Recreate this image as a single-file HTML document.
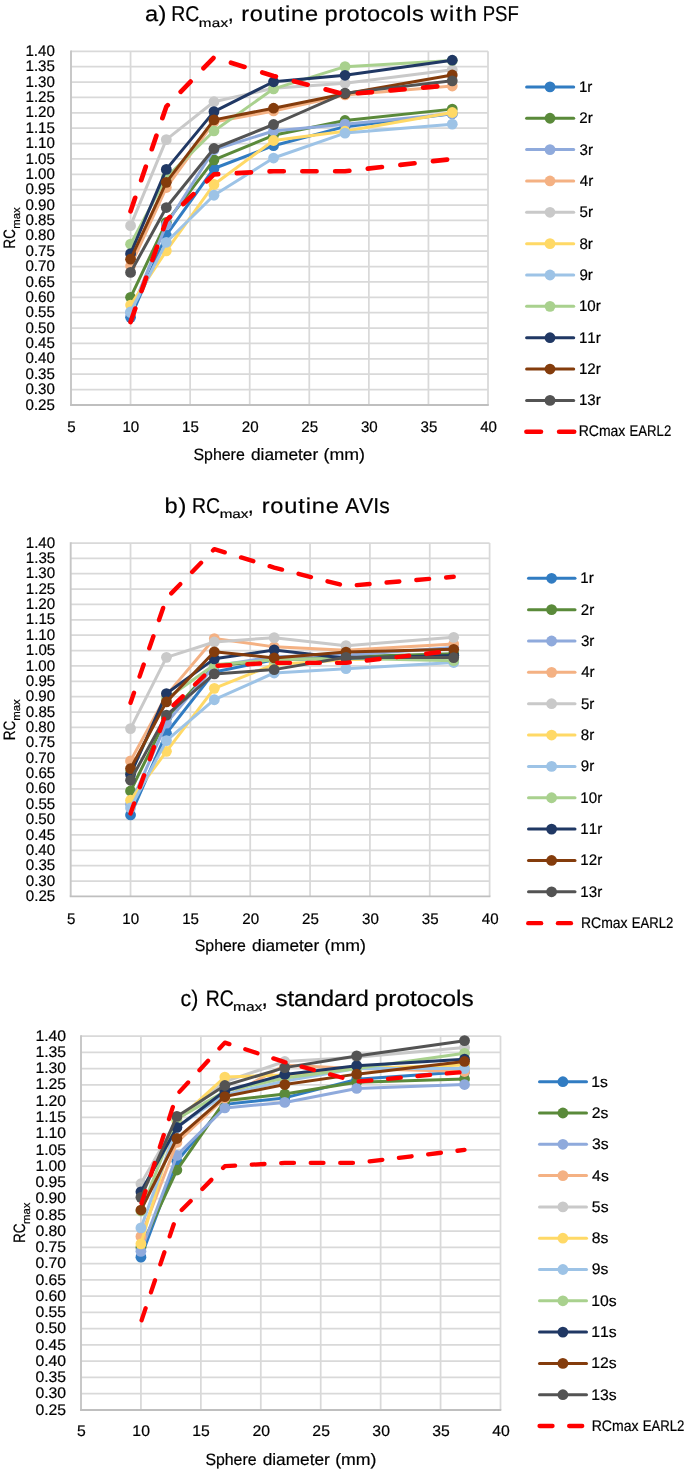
<!DOCTYPE html>
<html><head><meta charset="utf-8"><style>
html,body{margin:0;padding:0;background:#fff;}
svg{display:block;will-change:transform;font-family:"Liberation Sans", sans-serif;font-kerning:none;}
text{stroke:#000;stroke-width:0.2px;text-rendering:geometricPrecision;}
</style></head><body>
<svg width="685" height="1470" viewBox="0 0 685 1470">
<rect width="685" height="1470" fill="#fff"/>
<path d="M71.00 389.62H488.00M71.00 374.24H488.00M71.00 358.87H488.00M71.00 343.49H488.00M71.00 328.11H488.00M71.00 312.73H488.00M71.00 297.35H488.00M71.00 281.97H488.00M71.00 266.60H488.00M71.00 251.22H488.00M71.00 235.84H488.00M71.00 220.46H488.00M71.00 205.08H488.00M71.00 189.70H488.00M71.00 174.33H488.00M71.00 158.95H488.00M71.00 143.57H488.00M71.00 128.19H488.00M71.00 112.81H488.00M71.00 97.43H488.00M71.00 82.06H488.00M71.00 66.68H488.00M71.00 51.30H488.00M130.57 51.30V405.00M190.14 51.30V405.00M249.71 51.30V405.00M309.29 51.30V405.00M368.86 51.30V405.00M428.43 51.30V405.00M488.00 51.30V405.00" stroke="#D9D9D9" stroke-width="1.75" fill="none"/>
<path d="M71.00 50.50V405.00" stroke="#C6C6C6" stroke-width="1.9" fill="none"/>
<path d="M70.05 405.00H488.80" stroke="#BFBFBF" stroke-width="1.9" fill="none"/>
<polyline points="130.57,317.34 166.31,235.22 213.97,168.48 273.54,145.72 345.03,126.65 452.26,113.74" stroke="#317CC2" stroke-width="3.0" fill="none" stroke-linejoin="round" stroke-linecap="round"/>
<circle cx="130.57" cy="317.34" r="5.4" fill="#317CC2"/>
<circle cx="166.31" cy="235.22" r="5.4" fill="#317CC2"/>
<circle cx="213.97" cy="168.48" r="5.4" fill="#317CC2"/>
<circle cx="273.54" cy="145.72" r="5.4" fill="#317CC2"/>
<circle cx="345.03" cy="126.65" r="5.4" fill="#317CC2"/>
<circle cx="452.26" cy="113.74" r="5.4" fill="#317CC2"/>
<polyline points="130.57,297.35 166.31,222.31 213.97,159.87 273.54,135.27 345.03,120.50 452.26,109.12" stroke="#5A8A3A" stroke-width="3.0" fill="none" stroke-linejoin="round" stroke-linecap="round"/>
<circle cx="130.57" cy="297.35" r="5.4" fill="#5A8A3A"/>
<circle cx="166.31" cy="222.31" r="5.4" fill="#5A8A3A"/>
<circle cx="213.97" cy="159.87" r="5.4" fill="#5A8A3A"/>
<circle cx="273.54" cy="135.27" r="5.4" fill="#5A8A3A"/>
<circle cx="345.03" cy="120.50" r="5.4" fill="#5A8A3A"/>
<circle cx="452.26" cy="109.12" r="5.4" fill="#5A8A3A"/>
<polyline points="130.57,312.73 166.31,224.77 213.97,149.72 273.54,130.96 345.03,124.19 452.26,113.74" stroke="#8FAADC" stroke-width="3.0" fill="none" stroke-linejoin="round" stroke-linecap="round"/>
<circle cx="130.57" cy="312.73" r="5.4" fill="#8FAADC"/>
<circle cx="166.31" cy="224.77" r="5.4" fill="#8FAADC"/>
<circle cx="213.97" cy="149.72" r="5.4" fill="#8FAADC"/>
<circle cx="273.54" cy="130.96" r="5.4" fill="#8FAADC"/>
<circle cx="345.03" cy="124.19" r="5.4" fill="#8FAADC"/>
<circle cx="452.26" cy="113.74" r="5.4" fill="#8FAADC"/>
<polyline points="130.57,265.98 166.31,187.55 213.97,122.04 273.54,110.97 345.03,94.97 452.26,86.05" stroke="#F4B183" stroke-width="3.0" fill="none" stroke-linejoin="round" stroke-linecap="round"/>
<circle cx="130.57" cy="265.98" r="5.4" fill="#F4B183"/>
<circle cx="166.31" cy="187.55" r="5.4" fill="#F4B183"/>
<circle cx="213.97" cy="122.04" r="5.4" fill="#F4B183"/>
<circle cx="273.54" cy="110.97" r="5.4" fill="#F4B183"/>
<circle cx="345.03" cy="94.97" r="5.4" fill="#F4B183"/>
<circle cx="452.26" cy="86.05" r="5.4" fill="#F4B183"/>
<polyline points="130.57,225.69 166.31,139.57 213.97,101.74 273.54,88.21 345.03,83.29 452.26,69.75" stroke="#C9C9C9" stroke-width="3.0" fill="none" stroke-linejoin="round" stroke-linecap="round"/>
<circle cx="130.57" cy="225.69" r="5.4" fill="#C9C9C9"/>
<circle cx="166.31" cy="139.57" r="5.4" fill="#C9C9C9"/>
<circle cx="213.97" cy="101.74" r="5.4" fill="#C9C9C9"/>
<circle cx="273.54" cy="88.21" r="5.4" fill="#C9C9C9"/>
<circle cx="345.03" cy="83.29" r="5.4" fill="#C9C9C9"/>
<circle cx="452.26" cy="69.75" r="5.4" fill="#C9C9C9"/>
<polyline points="130.57,305.04 166.31,250.91 213.97,184.48 273.54,140.49 345.03,131.27 452.26,112.51" stroke="#FFD966" stroke-width="3.0" fill="none" stroke-linejoin="round" stroke-linecap="round"/>
<circle cx="130.57" cy="305.04" r="5.4" fill="#FFD966"/>
<circle cx="166.31" cy="250.91" r="5.4" fill="#FFD966"/>
<circle cx="213.97" cy="184.48" r="5.4" fill="#FFD966"/>
<circle cx="273.54" cy="140.49" r="5.4" fill="#FFD966"/>
<circle cx="345.03" cy="131.27" r="5.4" fill="#FFD966"/>
<circle cx="452.26" cy="112.51" r="5.4" fill="#FFD966"/>
<polyline points="130.57,311.81 166.31,242.30 213.97,195.24 273.54,158.03 345.03,133.11 452.26,124.19" stroke="#9DC3E6" stroke-width="3.0" fill="none" stroke-linejoin="round" stroke-linecap="round"/>
<circle cx="130.57" cy="311.81" r="5.4" fill="#9DC3E6"/>
<circle cx="166.31" cy="242.30" r="5.4" fill="#9DC3E6"/>
<circle cx="213.97" cy="195.24" r="5.4" fill="#9DC3E6"/>
<circle cx="273.54" cy="158.03" r="5.4" fill="#9DC3E6"/>
<circle cx="345.03" cy="133.11" r="5.4" fill="#9DC3E6"/>
<circle cx="452.26" cy="124.19" r="5.4" fill="#9DC3E6"/>
<polyline points="130.57,244.14 166.31,177.40 213.97,130.96 273.54,88.82 345.03,66.68 452.26,60.53" stroke="#A9D18E" stroke-width="3.0" fill="none" stroke-linejoin="round" stroke-linecap="round"/>
<circle cx="130.57" cy="244.14" r="5.4" fill="#A9D18E"/>
<circle cx="166.31" cy="177.40" r="5.4" fill="#A9D18E"/>
<circle cx="213.97" cy="130.96" r="5.4" fill="#A9D18E"/>
<circle cx="273.54" cy="88.82" r="5.4" fill="#A9D18E"/>
<circle cx="345.03" cy="66.68" r="5.4" fill="#A9D18E"/>
<circle cx="452.26" cy="60.53" r="5.4" fill="#A9D18E"/>
<polyline points="130.57,253.68 166.31,169.41 213.97,111.58 273.54,81.75 345.03,75.29 452.26,60.22" stroke="#203864" stroke-width="3.0" fill="none" stroke-linejoin="round" stroke-linecap="round"/>
<circle cx="130.57" cy="253.68" r="5.4" fill="#203864"/>
<circle cx="166.31" cy="169.41" r="5.4" fill="#203864"/>
<circle cx="213.97" cy="111.58" r="5.4" fill="#203864"/>
<circle cx="273.54" cy="81.75" r="5.4" fill="#203864"/>
<circle cx="345.03" cy="75.29" r="5.4" fill="#203864"/>
<circle cx="452.26" cy="60.22" r="5.4" fill="#203864"/>
<polyline points="130.57,259.21 166.31,182.32 213.97,119.89 273.54,108.20 345.03,93.74 452.26,74.98" stroke="#843C0C" stroke-width="3.0" fill="none" stroke-linejoin="round" stroke-linecap="round"/>
<circle cx="130.57" cy="259.21" r="5.4" fill="#843C0C"/>
<circle cx="166.31" cy="182.32" r="5.4" fill="#843C0C"/>
<circle cx="213.97" cy="119.89" r="5.4" fill="#843C0C"/>
<circle cx="273.54" cy="108.20" r="5.4" fill="#843C0C"/>
<circle cx="345.03" cy="93.74" r="5.4" fill="#843C0C"/>
<circle cx="452.26" cy="74.98" r="5.4" fill="#843C0C"/>
<polyline points="130.57,272.44 166.31,207.54 213.97,148.49 273.54,124.50 345.03,93.13 452.26,80.83" stroke="#535353" stroke-width="3.0" fill="none" stroke-linejoin="round" stroke-linecap="round"/>
<circle cx="130.57" cy="272.44" r="5.4" fill="#535353"/>
<circle cx="166.31" cy="207.54" r="5.4" fill="#535353"/>
<circle cx="213.97" cy="148.49" r="5.4" fill="#535353"/>
<circle cx="273.54" cy="124.50" r="5.4" fill="#535353"/>
<circle cx="345.03" cy="93.13" r="5.4" fill="#535353"/>
<circle cx="452.26" cy="80.83" r="5.4" fill="#535353"/>
<polyline points="130.57,211.23 166.31,106.66 213.97,57.45 273.54,75.91 345.03,94.36 452.26,85.13" stroke="#FF0000" stroke-width="4.7" fill="none" stroke-linejoin="round" stroke-linecap="round" stroke-dasharray="14.2 18.6" stroke-dashoffset="0"/>
<polyline points="130.57,321.96 166.31,220.46 213.97,174.33 273.54,171.25 345.03,171.25 452.26,158.95" stroke="#FF0000" stroke-width="4.7" fill="none" stroke-linejoin="round" stroke-linecap="round" stroke-dasharray="14.2 18.6" stroke-dashoffset="0"/>
<text transform="matrix(1.1,0,0,1,145.10,20.90)" font-size="21.5" letter-spacing="0.221" fill="#000">a)</text>
<text x="171.31" y="20.90" font-size="21.5" textLength="28.03" lengthAdjust="spacingAndGlyphs" fill="#000">RC</text>
<text transform="matrix(1.25,0,0,1,198.69,26.50)" font-size="12.2" letter-spacing="0.267" fill="#000">max</text>
<text x="227.77" y="20.90" font-size="21.5">,</text>
<text transform="matrix(1.1,0,0,1,241.13,20.90)" font-size="21.5" letter-spacing="0.713" fill="#000">routine</text>
<text transform="matrix(1.1,0,0,1,324.58,20.90)" font-size="21.5" letter-spacing="0.365" fill="#000">protocols</text>
<text transform="matrix(1.1,0,0,1,430.43,20.90)" font-size="21.5" letter-spacing="1.347" fill="#000">with</text>
<text x="482.68" y="20.90" font-size="21.5" textLength="36.06" lengthAdjust="spacingAndGlyphs" fill="#000">PSF</text>
<text x="25.49" y="409.60" font-size="15.4" textLength="29.44" lengthAdjust="spacingAndGlyphs" fill="#000">0.25</text>
<text x="25.45" y="394.22" font-size="15.4" textLength="29.44" lengthAdjust="spacingAndGlyphs" fill="#000">0.30</text>
<text x="25.49" y="378.84" font-size="15.4" textLength="29.44" lengthAdjust="spacingAndGlyphs" fill="#000">0.35</text>
<text x="25.45" y="363.47" font-size="15.4" textLength="29.44" lengthAdjust="spacingAndGlyphs" fill="#000">0.40</text>
<text x="25.49" y="348.09" font-size="15.4" textLength="29.44" lengthAdjust="spacingAndGlyphs" fill="#000">0.45</text>
<text x="25.45" y="332.71" font-size="15.4" textLength="29.44" lengthAdjust="spacingAndGlyphs" fill="#000">0.50</text>
<text x="25.49" y="317.33" font-size="15.4" textLength="29.44" lengthAdjust="spacingAndGlyphs" fill="#000">0.55</text>
<text x="25.45" y="301.95" font-size="15.4" textLength="29.44" lengthAdjust="spacingAndGlyphs" fill="#000">0.60</text>
<text x="25.49" y="286.57" font-size="15.4" textLength="29.44" lengthAdjust="spacingAndGlyphs" fill="#000">0.65</text>
<text x="25.45" y="271.20" font-size="15.4" textLength="29.44" lengthAdjust="spacingAndGlyphs" fill="#000">0.70</text>
<text x="25.49" y="255.82" font-size="15.4" textLength="29.44" lengthAdjust="spacingAndGlyphs" fill="#000">0.75</text>
<text x="25.45" y="240.44" font-size="15.4" textLength="29.44" lengthAdjust="spacingAndGlyphs" fill="#000">0.80</text>
<text x="25.49" y="225.06" font-size="15.4" textLength="29.44" lengthAdjust="spacingAndGlyphs" fill="#000">0.85</text>
<text x="25.45" y="209.68" font-size="15.4" textLength="29.44" lengthAdjust="spacingAndGlyphs" fill="#000">0.90</text>
<text x="25.49" y="194.30" font-size="15.4" textLength="29.44" lengthAdjust="spacingAndGlyphs" fill="#000">0.95</text>
<text x="25.45" y="178.93" font-size="15.4" textLength="29.44" lengthAdjust="spacingAndGlyphs" fill="#000">1.00</text>
<text x="25.49" y="163.55" font-size="15.4" textLength="29.44" lengthAdjust="spacingAndGlyphs" fill="#000">1.05</text>
<text x="25.45" y="148.17" font-size="15.4" textLength="29.44" lengthAdjust="spacingAndGlyphs" fill="#000">1.10</text>
<text x="25.49" y="132.79" font-size="15.4" textLength="29.44" lengthAdjust="spacingAndGlyphs" fill="#000">1.15</text>
<text x="25.45" y="117.41" font-size="15.4" textLength="29.44" lengthAdjust="spacingAndGlyphs" fill="#000">1.20</text>
<text x="25.49" y="102.03" font-size="15.4" textLength="29.44" lengthAdjust="spacingAndGlyphs" fill="#000">1.25</text>
<text x="25.45" y="86.66" font-size="15.4" textLength="29.44" lengthAdjust="spacingAndGlyphs" fill="#000">1.30</text>
<text x="25.49" y="71.28" font-size="15.4" textLength="29.44" lengthAdjust="spacingAndGlyphs" fill="#000">1.35</text>
<text x="25.45" y="55.90" font-size="15.4" textLength="29.44" lengthAdjust="spacingAndGlyphs" fill="#000">1.40</text>
<text x="67.31" y="431.80" font-size="15.4" textLength="8.41" lengthAdjust="spacingAndGlyphs" fill="#000">5</text>
<text x="122.38" y="431.80" font-size="15.4" textLength="16.83" lengthAdjust="spacingAndGlyphs" fill="#000">10</text>
<text x="181.97" y="431.80" font-size="15.4" textLength="16.83" lengthAdjust="spacingAndGlyphs" fill="#000">15</text>
<text x="241.72" y="431.80" font-size="15.4" textLength="16.83" lengthAdjust="spacingAndGlyphs" fill="#000">20</text>
<text x="301.31" y="431.80" font-size="15.4" textLength="16.83" lengthAdjust="spacingAndGlyphs" fill="#000">25</text>
<text x="360.95" y="431.80" font-size="15.4" textLength="16.83" lengthAdjust="spacingAndGlyphs" fill="#000">30</text>
<text x="420.54" y="431.80" font-size="15.4" textLength="16.83" lengthAdjust="spacingAndGlyphs" fill="#000">35</text>
<text x="480.21" y="431.80" font-size="15.4" textLength="16.83" lengthAdjust="spacingAndGlyphs" fill="#000">40</text>
<text x="193.48" y="459.70" font-size="16.5" textLength="51.31" lengthAdjust="spacingAndGlyphs" fill="#000">Sphere</text>
<text x="250.94" y="459.70" font-size="16.5" textLength="67.26" lengthAdjust="spacingAndGlyphs" fill="#000">diameter</text>
<text x="323.59" y="459.70" font-size="16.5" textLength="41.41" lengthAdjust="spacingAndGlyphs" fill="#000">(mm)</text>
<g transform="translate(14.80,0) rotate(-90)">
<text x="-248.39" y="0.00" font-size="16.5" textLength="19.20" lengthAdjust="spacingAndGlyphs" fill="#000">RC</text>
<text x="-228.75" y="4.90" font-size="11.2" textLength="21.27" lengthAdjust="spacingAndGlyphs" fill="#000">max</text>
</g>
<path d="M526.60 86.90H573.70" stroke="#317CC2" stroke-width="3.0" stroke-linecap="round"/>
<circle cx="550.00" cy="86.90" r="5.4" fill="#317CC2"/>
<text x="578.95" y="91.80" font-size="15.4" textLength="13.45" lengthAdjust="spacingAndGlyphs" fill="#000">1r</text>
<path d="M526.60 118.25H573.70" stroke="#5A8A3A" stroke-width="3.0" stroke-linecap="round"/>
<circle cx="550.00" cy="118.25" r="5.4" fill="#5A8A3A"/>
<text x="579.34" y="123.15" font-size="15.4" textLength="13.45" lengthAdjust="spacingAndGlyphs" fill="#000">2r</text>
<path d="M526.60 149.60H573.70" stroke="#8FAADC" stroke-width="3.0" stroke-linecap="round"/>
<circle cx="550.00" cy="149.60" r="5.4" fill="#8FAADC"/>
<text x="579.52" y="154.50" font-size="15.4" textLength="13.45" lengthAdjust="spacingAndGlyphs" fill="#000">3r</text>
<path d="M526.60 180.95H573.70" stroke="#F4B183" stroke-width="3.0" stroke-linecap="round"/>
<circle cx="550.00" cy="180.95" r="5.4" fill="#F4B183"/>
<text x="579.75" y="185.85" font-size="15.4" textLength="13.45" lengthAdjust="spacingAndGlyphs" fill="#000">4r</text>
<path d="M526.60 212.30H573.70" stroke="#C9C9C9" stroke-width="3.0" stroke-linecap="round"/>
<circle cx="550.00" cy="212.30" r="5.4" fill="#C9C9C9"/>
<text x="579.49" y="217.20" font-size="15.4" textLength="13.45" lengthAdjust="spacingAndGlyphs" fill="#000">5r</text>
<path d="M526.60 243.65H573.70" stroke="#FFD966" stroke-width="3.0" stroke-linecap="round"/>
<circle cx="550.00" cy="243.65" r="5.4" fill="#FFD966"/>
<text x="579.44" y="248.55" font-size="15.4" textLength="13.45" lengthAdjust="spacingAndGlyphs" fill="#000">8r</text>
<path d="M526.60 275.00H573.70" stroke="#9DC3E6" stroke-width="3.0" stroke-linecap="round"/>
<circle cx="550.00" cy="275.00" r="5.4" fill="#9DC3E6"/>
<text x="579.39" y="279.90" font-size="15.4" textLength="13.45" lengthAdjust="spacingAndGlyphs" fill="#000">9r</text>
<path d="M526.60 306.35H573.70" stroke="#A9D18E" stroke-width="3.0" stroke-linecap="round"/>
<circle cx="550.00" cy="306.35" r="5.4" fill="#A9D18E"/>
<text x="578.95" y="311.25" font-size="15.4" textLength="21.86" lengthAdjust="spacingAndGlyphs" fill="#000">10r</text>
<path d="M526.60 337.70H573.70" stroke="#203864" stroke-width="3.0" stroke-linecap="round"/>
<circle cx="550.00" cy="337.70" r="5.4" fill="#203864"/>
<text x="578.95" y="342.60" font-size="15.4" textLength="21.86" lengthAdjust="spacingAndGlyphs" fill="#000">11r</text>
<path d="M526.60 369.05H573.70" stroke="#843C0C" stroke-width="3.0" stroke-linecap="round"/>
<circle cx="550.00" cy="369.05" r="5.4" fill="#843C0C"/>
<text x="578.95" y="373.95" font-size="15.4" textLength="21.86" lengthAdjust="spacingAndGlyphs" fill="#000">12r</text>
<path d="M526.60 400.40H573.70" stroke="#535353" stroke-width="3.0" stroke-linecap="round"/>
<circle cx="550.00" cy="400.40" r="5.4" fill="#535353"/>
<text x="578.95" y="405.30" font-size="15.4" textLength="21.86" lengthAdjust="spacingAndGlyphs" fill="#000">13r</text>
<path d="M526.45 431.75H540.95" stroke="#FF0000" stroke-width="4.7" stroke-linecap="round"/>
<path d="M559.15 431.75H574.15" stroke="#FF0000" stroke-width="4.7" stroke-linecap="round"/>
<text x="578.65" y="436.25" font-size="15.4" textLength="46.75" lengthAdjust="spacingAndGlyphs" fill="#000">RCmax</text>
<text x="629.59" y="436.25" font-size="15.4" textLength="41.67" lengthAdjust="spacingAndGlyphs" fill="#000">EARL2</text>
<path d="M70.70 881.03H489.60M70.70 865.67H489.60M70.70 850.30H489.60M70.70 834.94H489.60M70.70 819.57H489.60M70.70 804.21H489.60M70.70 788.84H489.60M70.70 773.48H489.60M70.70 758.11H489.60M70.70 742.75H489.60M70.70 727.38H489.60M70.70 712.02H489.60M70.70 696.65H489.60M70.70 681.29H489.60M70.70 665.92H489.60M70.70 650.56H489.60M70.70 635.19H489.60M70.70 619.83H489.60M70.70 604.46H489.60M70.70 589.10H489.60M70.70 573.73H489.60M70.70 558.37H489.60M70.70 543.00H489.60M130.54 543.00V896.40M190.39 543.00V896.40M250.23 543.00V896.40M310.07 543.00V896.40M369.91 543.00V896.40M429.76 543.00V896.40M489.60 543.00V896.40" stroke="#D9D9D9" stroke-width="1.75" fill="none"/>
<path d="M70.70 542.20V896.40" stroke="#C6C6C6" stroke-width="1.9" fill="none"/>
<path d="M69.75 896.40H490.40" stroke="#BFBFBF" stroke-width="1.9" fill="none"/>
<polyline points="130.54,814.96 166.45,733.22 214.32,672.07 274.17,659.78 345.98,658.24 453.69,655.17" stroke="#317CC2" stroke-width="3.0" fill="none" stroke-linejoin="round" stroke-linecap="round"/>
<circle cx="130.54" cy="814.96" r="5.4" fill="#317CC2"/>
<circle cx="166.45" cy="733.22" r="5.4" fill="#317CC2"/>
<circle cx="214.32" cy="672.07" r="5.4" fill="#317CC2"/>
<circle cx="274.17" cy="659.78" r="5.4" fill="#317CC2"/>
<circle cx="345.98" cy="658.24" r="5.4" fill="#317CC2"/>
<circle cx="453.69" cy="655.17" r="5.4" fill="#317CC2"/>
<polyline points="130.54,790.99 166.45,718.16 214.32,665.92 274.17,659.78 345.98,656.70 453.69,653.63" stroke="#5A8A3A" stroke-width="3.0" fill="none" stroke-linejoin="round" stroke-linecap="round"/>
<circle cx="130.54" cy="790.99" r="5.4" fill="#5A8A3A"/>
<circle cx="166.45" cy="718.16" r="5.4" fill="#5A8A3A"/>
<circle cx="214.32" cy="665.92" r="5.4" fill="#5A8A3A"/>
<circle cx="274.17" cy="659.78" r="5.4" fill="#5A8A3A"/>
<circle cx="345.98" cy="656.70" r="5.4" fill="#5A8A3A"/>
<circle cx="453.69" cy="653.63" r="5.4" fill="#5A8A3A"/>
<polyline points="130.54,804.21 166.45,723.08 214.32,665.92 274.17,656.70 345.98,655.17 453.69,647.48" stroke="#8FAADC" stroke-width="3.0" fill="none" stroke-linejoin="round" stroke-linecap="round"/>
<circle cx="130.54" cy="804.21" r="5.4" fill="#8FAADC"/>
<circle cx="166.45" cy="723.08" r="5.4" fill="#8FAADC"/>
<circle cx="214.32" cy="665.92" r="5.4" fill="#8FAADC"/>
<circle cx="274.17" cy="656.70" r="5.4" fill="#8FAADC"/>
<circle cx="345.98" cy="655.17" r="5.4" fill="#8FAADC"/>
<circle cx="453.69" cy="647.48" r="5.4" fill="#8FAADC"/>
<polyline points="130.54,760.88 166.45,695.12 214.32,638.57 274.17,646.87 345.98,650.25 453.69,644.10" stroke="#F4B183" stroke-width="3.0" fill="none" stroke-linejoin="round" stroke-linecap="round"/>
<circle cx="130.54" cy="760.88" r="5.4" fill="#F4B183"/>
<circle cx="166.45" cy="695.12" r="5.4" fill="#F4B183"/>
<circle cx="214.32" cy="638.57" r="5.4" fill="#F4B183"/>
<circle cx="274.17" cy="646.87" r="5.4" fill="#F4B183"/>
<circle cx="345.98" cy="650.25" r="5.4" fill="#F4B183"/>
<circle cx="453.69" cy="644.10" r="5.4" fill="#F4B183"/>
<polyline points="130.54,728.61 166.45,657.32 214.32,641.95 274.17,637.65 345.98,645.64 453.69,637.34" stroke="#C9C9C9" stroke-width="3.0" fill="none" stroke-linejoin="round" stroke-linecap="round"/>
<circle cx="130.54" cy="728.61" r="5.4" fill="#C9C9C9"/>
<circle cx="166.45" cy="657.32" r="5.4" fill="#C9C9C9"/>
<circle cx="214.32" cy="641.95" r="5.4" fill="#C9C9C9"/>
<circle cx="274.17" cy="637.65" r="5.4" fill="#C9C9C9"/>
<circle cx="345.98" cy="645.64" r="5.4" fill="#C9C9C9"/>
<circle cx="453.69" cy="637.34" r="5.4" fill="#C9C9C9"/>
<polyline points="130.54,800.21 166.45,751.35 214.32,688.35 274.17,664.39 345.98,659.78 453.69,656.70" stroke="#FFD966" stroke-width="3.0" fill="none" stroke-linejoin="round" stroke-linecap="round"/>
<circle cx="130.54" cy="800.21" r="5.4" fill="#FFD966"/>
<circle cx="166.45" cy="751.35" r="5.4" fill="#FFD966"/>
<circle cx="214.32" cy="688.35" r="5.4" fill="#FFD966"/>
<circle cx="274.17" cy="664.39" r="5.4" fill="#FFD966"/>
<circle cx="345.98" cy="659.78" r="5.4" fill="#FFD966"/>
<circle cx="453.69" cy="656.70" r="5.4" fill="#FFD966"/>
<polyline points="130.54,807.90 166.45,740.60 214.32,699.73 274.17,672.99 345.98,668.69 453.69,662.54" stroke="#9DC3E6" stroke-width="3.0" fill="none" stroke-linejoin="round" stroke-linecap="round"/>
<circle cx="130.54" cy="807.90" r="5.4" fill="#9DC3E6"/>
<circle cx="166.45" cy="740.60" r="5.4" fill="#9DC3E6"/>
<circle cx="214.32" cy="699.73" r="5.4" fill="#9DC3E6"/>
<circle cx="274.17" cy="672.99" r="5.4" fill="#9DC3E6"/>
<circle cx="345.98" cy="668.69" r="5.4" fill="#9DC3E6"/>
<circle cx="453.69" cy="662.54" r="5.4" fill="#9DC3E6"/>
<polyline points="130.54,771.94 166.45,698.80 214.32,664.69 274.17,659.78 345.98,658.24 453.69,660.70" stroke="#A9D18E" stroke-width="3.0" fill="none" stroke-linejoin="round" stroke-linecap="round"/>
<circle cx="130.54" cy="771.94" r="5.4" fill="#A9D18E"/>
<circle cx="166.45" cy="698.80" r="5.4" fill="#A9D18E"/>
<circle cx="214.32" cy="664.69" r="5.4" fill="#A9D18E"/>
<circle cx="274.17" cy="659.78" r="5.4" fill="#A9D18E"/>
<circle cx="345.98" cy="658.24" r="5.4" fill="#A9D18E"/>
<circle cx="453.69" cy="660.70" r="5.4" fill="#A9D18E"/>
<polyline points="130.54,774.40 166.45,693.58 214.32,658.85 274.17,649.94 345.98,658.24 453.69,655.47" stroke="#203864" stroke-width="3.0" fill="none" stroke-linejoin="round" stroke-linecap="round"/>
<circle cx="130.54" cy="774.40" r="5.4" fill="#203864"/>
<circle cx="166.45" cy="693.58" r="5.4" fill="#203864"/>
<circle cx="214.32" cy="658.85" r="5.4" fill="#203864"/>
<circle cx="274.17" cy="649.94" r="5.4" fill="#203864"/>
<circle cx="345.98" cy="658.24" r="5.4" fill="#203864"/>
<circle cx="453.69" cy="655.47" r="5.4" fill="#203864"/>
<polyline points="130.54,768.56 166.45,701.88 214.32,651.79 274.17,657.93 345.98,652.09 453.69,649.33" stroke="#843C0C" stroke-width="3.0" fill="none" stroke-linejoin="round" stroke-linecap="round"/>
<circle cx="130.54" cy="768.56" r="5.4" fill="#843C0C"/>
<circle cx="166.45" cy="701.88" r="5.4" fill="#843C0C"/>
<circle cx="214.32" cy="651.79" r="5.4" fill="#843C0C"/>
<circle cx="274.17" cy="657.93" r="5.4" fill="#843C0C"/>
<circle cx="345.98" cy="652.09" r="5.4" fill="#843C0C"/>
<circle cx="453.69" cy="649.33" r="5.4" fill="#843C0C"/>
<polyline points="130.54,780.24 166.45,715.09 214.32,673.91 274.17,669.61 345.98,657.32 453.69,657.62" stroke="#535353" stroke-width="3.0" fill="none" stroke-linejoin="round" stroke-linecap="round"/>
<circle cx="130.54" cy="780.24" r="5.4" fill="#535353"/>
<circle cx="166.45" cy="715.09" r="5.4" fill="#535353"/>
<circle cx="214.32" cy="673.91" r="5.4" fill="#535353"/>
<circle cx="274.17" cy="669.61" r="5.4" fill="#535353"/>
<circle cx="345.98" cy="657.32" r="5.4" fill="#535353"/>
<circle cx="453.69" cy="657.62" r="5.4" fill="#535353"/>
<polyline points="130.54,702.80 166.45,598.31 214.32,549.15 274.17,567.58 345.98,586.02 453.69,576.80" stroke="#FF0000" stroke-width="4.4" fill="none" stroke-linejoin="round" stroke-linecap="round" stroke-dasharray="12.8 17.1" stroke-dashoffset="2.2"/>
<polyline points="130.54,813.43 166.45,712.02 214.32,665.92 274.17,662.85 345.98,662.85 453.69,650.56" stroke="#FF0000" stroke-width="4.4" fill="none" stroke-linejoin="round" stroke-linecap="round" stroke-dasharray="12.8 17.1" stroke-dashoffset="2.2"/>
<text transform="matrix(1.1,0,0,1,164.58,512.50)" font-size="21.5" letter-spacing="0.693" fill="#000">b)</text>
<text x="192.11" y="512.50" font-size="21.5" textLength="28.03" lengthAdjust="spacingAndGlyphs" fill="#000">RC</text>
<text x="219.69" y="518.40" font-size="12.2" textLength="28.78" lengthAdjust="spacingAndGlyphs" fill="#000">max</text>
<text x="247.77" y="512.50" font-size="21.5">,</text>
<text transform="matrix(1.1,0,0,1,261.63,512.50)" font-size="21.5" letter-spacing="0.744" fill="#000">routine</text>
<text x="345.26" y="512.50" font-size="21.5" textLength="44.40" lengthAdjust="spacingAndGlyphs" fill="#000">AVIs</text>
<text x="25.79" y="901.00" font-size="15.4" textLength="29.44" lengthAdjust="spacingAndGlyphs" fill="#000">0.25</text>
<text x="25.75" y="885.63" font-size="15.4" textLength="29.44" lengthAdjust="spacingAndGlyphs" fill="#000">0.30</text>
<text x="25.79" y="870.27" font-size="15.4" textLength="29.44" lengthAdjust="spacingAndGlyphs" fill="#000">0.35</text>
<text x="25.75" y="854.90" font-size="15.4" textLength="29.44" lengthAdjust="spacingAndGlyphs" fill="#000">0.40</text>
<text x="25.79" y="839.54" font-size="15.4" textLength="29.44" lengthAdjust="spacingAndGlyphs" fill="#000">0.45</text>
<text x="25.75" y="824.17" font-size="15.4" textLength="29.44" lengthAdjust="spacingAndGlyphs" fill="#000">0.50</text>
<text x="25.79" y="808.81" font-size="15.4" textLength="29.44" lengthAdjust="spacingAndGlyphs" fill="#000">0.55</text>
<text x="25.75" y="793.44" font-size="15.4" textLength="29.44" lengthAdjust="spacingAndGlyphs" fill="#000">0.60</text>
<text x="25.79" y="778.08" font-size="15.4" textLength="29.44" lengthAdjust="spacingAndGlyphs" fill="#000">0.65</text>
<text x="25.75" y="762.71" font-size="15.4" textLength="29.44" lengthAdjust="spacingAndGlyphs" fill="#000">0.70</text>
<text x="25.79" y="747.35" font-size="15.4" textLength="29.44" lengthAdjust="spacingAndGlyphs" fill="#000">0.75</text>
<text x="25.75" y="731.98" font-size="15.4" textLength="29.44" lengthAdjust="spacingAndGlyphs" fill="#000">0.80</text>
<text x="25.79" y="716.62" font-size="15.4" textLength="29.44" lengthAdjust="spacingAndGlyphs" fill="#000">0.85</text>
<text x="25.75" y="701.25" font-size="15.4" textLength="29.44" lengthAdjust="spacingAndGlyphs" fill="#000">0.90</text>
<text x="25.79" y="685.89" font-size="15.4" textLength="29.44" lengthAdjust="spacingAndGlyphs" fill="#000">0.95</text>
<text x="25.75" y="670.52" font-size="15.4" textLength="29.44" lengthAdjust="spacingAndGlyphs" fill="#000">1.00</text>
<text x="25.79" y="655.16" font-size="15.4" textLength="29.44" lengthAdjust="spacingAndGlyphs" fill="#000">1.05</text>
<text x="25.75" y="639.79" font-size="15.4" textLength="29.44" lengthAdjust="spacingAndGlyphs" fill="#000">1.10</text>
<text x="25.79" y="624.43" font-size="15.4" textLength="29.44" lengthAdjust="spacingAndGlyphs" fill="#000">1.15</text>
<text x="25.75" y="609.06" font-size="15.4" textLength="29.44" lengthAdjust="spacingAndGlyphs" fill="#000">1.20</text>
<text x="25.79" y="593.70" font-size="15.4" textLength="29.44" lengthAdjust="spacingAndGlyphs" fill="#000">1.25</text>
<text x="25.75" y="578.33" font-size="15.4" textLength="29.44" lengthAdjust="spacingAndGlyphs" fill="#000">1.30</text>
<text x="25.79" y="562.97" font-size="15.4" textLength="29.44" lengthAdjust="spacingAndGlyphs" fill="#000">1.35</text>
<text x="25.75" y="547.60" font-size="15.4" textLength="29.44" lengthAdjust="spacingAndGlyphs" fill="#000">1.40</text>
<text x="67.01" y="923.60" font-size="15.4" textLength="8.41" lengthAdjust="spacingAndGlyphs" fill="#000">5</text>
<text x="122.35" y="923.60" font-size="15.4" textLength="16.83" lengthAdjust="spacingAndGlyphs" fill="#000">10</text>
<text x="182.21" y="923.60" font-size="15.4" textLength="16.83" lengthAdjust="spacingAndGlyphs" fill="#000">15</text>
<text x="242.23" y="923.60" font-size="15.4" textLength="16.83" lengthAdjust="spacingAndGlyphs" fill="#000">20</text>
<text x="302.10" y="923.60" font-size="15.4" textLength="16.83" lengthAdjust="spacingAndGlyphs" fill="#000">25</text>
<text x="362.01" y="923.60" font-size="15.4" textLength="16.83" lengthAdjust="spacingAndGlyphs" fill="#000">30</text>
<text x="421.87" y="923.60" font-size="15.4" textLength="16.83" lengthAdjust="spacingAndGlyphs" fill="#000">35</text>
<text x="481.81" y="923.60" font-size="15.4" textLength="16.83" lengthAdjust="spacingAndGlyphs" fill="#000">40</text>
<text x="194.78" y="951.30" font-size="16.5" textLength="51.19" lengthAdjust="spacingAndGlyphs" fill="#000">Sphere</text>
<text x="252.10" y="951.30" font-size="16.5" textLength="67.10" lengthAdjust="spacingAndGlyphs" fill="#000">diameter</text>
<text x="324.59" y="951.30" font-size="16.5" textLength="41.31" lengthAdjust="spacingAndGlyphs" fill="#000">(mm)</text>
<g transform="translate(14.70,0) rotate(-90)">
<text x="-740.32" y="0.00" font-size="16.5" textLength="19.63" lengthAdjust="spacingAndGlyphs" fill="#000">RC</text>
<text x="-720.86" y="5.00" font-size="11.2" textLength="21.58" lengthAdjust="spacingAndGlyphs" fill="#000">max</text>
</g>
<path d="M528.50 578.30H575.00" stroke="#317CC2" stroke-width="3.0" stroke-linecap="round"/>
<circle cx="551.60" cy="578.30" r="5.4" fill="#317CC2"/>
<text x="580.35" y="583.20" font-size="15.4" textLength="13.45" lengthAdjust="spacingAndGlyphs" fill="#000">1r</text>
<path d="M528.50 609.65H575.00" stroke="#5A8A3A" stroke-width="3.0" stroke-linecap="round"/>
<circle cx="551.60" cy="609.65" r="5.4" fill="#5A8A3A"/>
<text x="580.74" y="614.55" font-size="15.4" textLength="13.45" lengthAdjust="spacingAndGlyphs" fill="#000">2r</text>
<path d="M528.50 641.00H575.00" stroke="#8FAADC" stroke-width="3.0" stroke-linecap="round"/>
<circle cx="551.60" cy="641.00" r="5.4" fill="#8FAADC"/>
<text x="580.92" y="645.90" font-size="15.4" textLength="13.45" lengthAdjust="spacingAndGlyphs" fill="#000">3r</text>
<path d="M528.50 672.35H575.00" stroke="#F4B183" stroke-width="3.0" stroke-linecap="round"/>
<circle cx="551.60" cy="672.35" r="5.4" fill="#F4B183"/>
<text x="581.15" y="677.25" font-size="15.4" textLength="13.45" lengthAdjust="spacingAndGlyphs" fill="#000">4r</text>
<path d="M528.50 703.70H575.00" stroke="#C9C9C9" stroke-width="3.0" stroke-linecap="round"/>
<circle cx="551.60" cy="703.70" r="5.4" fill="#C9C9C9"/>
<text x="580.89" y="708.60" font-size="15.4" textLength="13.45" lengthAdjust="spacingAndGlyphs" fill="#000">5r</text>
<path d="M528.50 735.05H575.00" stroke="#FFD966" stroke-width="3.0" stroke-linecap="round"/>
<circle cx="551.60" cy="735.05" r="5.4" fill="#FFD966"/>
<text x="580.84" y="739.95" font-size="15.4" textLength="13.45" lengthAdjust="spacingAndGlyphs" fill="#000">8r</text>
<path d="M528.50 766.40H575.00" stroke="#9DC3E6" stroke-width="3.0" stroke-linecap="round"/>
<circle cx="551.60" cy="766.40" r="5.4" fill="#9DC3E6"/>
<text x="580.79" y="771.30" font-size="15.4" textLength="13.45" lengthAdjust="spacingAndGlyphs" fill="#000">9r</text>
<path d="M528.50 797.75H575.00" stroke="#A9D18E" stroke-width="3.0" stroke-linecap="round"/>
<circle cx="551.60" cy="797.75" r="5.4" fill="#A9D18E"/>
<text x="580.35" y="802.65" font-size="15.4" textLength="21.86" lengthAdjust="spacingAndGlyphs" fill="#000">10r</text>
<path d="M528.50 829.10H575.00" stroke="#203864" stroke-width="3.0" stroke-linecap="round"/>
<circle cx="551.60" cy="829.10" r="5.4" fill="#203864"/>
<text x="580.35" y="834.00" font-size="15.4" textLength="21.86" lengthAdjust="spacingAndGlyphs" fill="#000">11r</text>
<path d="M528.50 860.45H575.00" stroke="#843C0C" stroke-width="3.0" stroke-linecap="round"/>
<circle cx="551.60" cy="860.45" r="5.4" fill="#843C0C"/>
<text x="580.35" y="865.35" font-size="15.4" textLength="21.86" lengthAdjust="spacingAndGlyphs" fill="#000">12r</text>
<path d="M528.50 891.80H575.00" stroke="#535353" stroke-width="3.0" stroke-linecap="round"/>
<circle cx="551.60" cy="891.80" r="5.4" fill="#535353"/>
<text x="580.35" y="896.70" font-size="15.4" textLength="21.86" lengthAdjust="spacingAndGlyphs" fill="#000">13r</text>
<path d="M528.30 923.15H541.10" stroke="#FF0000" stroke-width="4.4" stroke-linecap="round"/>
<path d="M558.00 923.15H570.90" stroke="#FF0000" stroke-width="4.4" stroke-linecap="round"/>
<text x="580.95" y="927.65" font-size="15.4" textLength="46.60" lengthAdjust="spacingAndGlyphs" fill="#000">RCmax</text>
<text x="631.72" y="927.65" font-size="15.4" textLength="41.53" lengthAdjust="spacingAndGlyphs" fill="#000">EARL2</text>
<path d="M81.00 1393.74H500.50M81.00 1377.49H500.50M81.00 1361.23H500.50M81.00 1344.97H500.50M81.00 1328.72H500.50M81.00 1312.46H500.50M81.00 1296.20H500.50M81.00 1279.95H500.50M81.00 1263.69H500.50M81.00 1247.43H500.50M81.00 1231.18H500.50M81.00 1214.92H500.50M81.00 1198.67H500.50M81.00 1182.41H500.50M81.00 1166.15H500.50M81.00 1149.90H500.50M81.00 1133.64H500.50M81.00 1117.38H500.50M81.00 1101.13H500.50M81.00 1084.87H500.50M81.00 1068.61H500.50M81.00 1052.36H500.50M81.00 1036.10H500.50M140.93 1036.10V1410.00M200.86 1036.10V1410.00M260.79 1036.10V1410.00M320.71 1036.10V1410.00M380.64 1036.10V1410.00M440.57 1036.10V1410.00M500.50 1036.10V1410.00" stroke="#D9D9D9" stroke-width="1.75" fill="none"/>
<path d="M81.00 1035.30V1410.00" stroke="#C6C6C6" stroke-width="1.9" fill="none"/>
<path d="M80.05 1410.00H501.30" stroke="#BFBFBF" stroke-width="1.9" fill="none"/>
<polyline points="140.93,1257.19 176.89,1161.28 224.83,1104.38 284.76,1097.87 356.67,1079.34 464.54,1071.86" stroke="#317CC2" stroke-width="3.0" fill="none" stroke-linejoin="round" stroke-linecap="round"/>
<circle cx="140.93" cy="1257.19" r="5.4" fill="#317CC2"/>
<circle cx="176.89" cy="1161.28" r="5.4" fill="#317CC2"/>
<circle cx="224.83" cy="1104.38" r="5.4" fill="#317CC2"/>
<circle cx="284.76" cy="1097.87" r="5.4" fill="#317CC2"/>
<circle cx="356.67" cy="1079.34" r="5.4" fill="#317CC2"/>
<circle cx="464.54" cy="1071.86" r="5.4" fill="#317CC2"/>
<polyline points="140.93,1247.43 176.89,1170.05 224.83,1100.80 284.76,1093.97 356.67,1082.27 464.54,1079.02" stroke="#5A8A3A" stroke-width="3.0" fill="none" stroke-linejoin="round" stroke-linecap="round"/>
<circle cx="140.93" cy="1247.43" r="5.4" fill="#5A8A3A"/>
<circle cx="176.89" cy="1170.05" r="5.4" fill="#5A8A3A"/>
<circle cx="224.83" cy="1100.80" r="5.4" fill="#5A8A3A"/>
<circle cx="284.76" cy="1093.97" r="5.4" fill="#5A8A3A"/>
<circle cx="356.67" cy="1082.27" r="5.4" fill="#5A8A3A"/>
<circle cx="464.54" cy="1079.02" r="5.4" fill="#5A8A3A"/>
<polyline points="140.93,1251.34 176.89,1155.42 224.83,1107.95 284.76,1102.43 356.67,1088.45 464.54,1084.54" stroke="#8FAADC" stroke-width="3.0" fill="none" stroke-linejoin="round" stroke-linecap="round"/>
<circle cx="140.93" cy="1251.34" r="5.4" fill="#8FAADC"/>
<circle cx="176.89" cy="1155.42" r="5.4" fill="#8FAADC"/>
<circle cx="224.83" cy="1107.95" r="5.4" fill="#8FAADC"/>
<circle cx="284.76" cy="1102.43" r="5.4" fill="#8FAADC"/>
<circle cx="356.67" cy="1088.45" r="5.4" fill="#8FAADC"/>
<circle cx="464.54" cy="1084.54" r="5.4" fill="#8FAADC"/>
<polyline points="140.93,1236.38 176.89,1142.42 224.83,1097.87 284.76,1065.36 356.67,1068.61 464.54,1071.54" stroke="#F4B183" stroke-width="3.0" fill="none" stroke-linejoin="round" stroke-linecap="round"/>
<circle cx="140.93" cy="1236.38" r="5.4" fill="#F4B183"/>
<circle cx="176.89" cy="1142.42" r="5.4" fill="#F4B183"/>
<circle cx="224.83" cy="1097.87" r="5.4" fill="#F4B183"/>
<circle cx="284.76" cy="1065.36" r="5.4" fill="#F4B183"/>
<circle cx="356.67" cy="1068.61" r="5.4" fill="#F4B183"/>
<circle cx="464.54" cy="1071.54" r="5.4" fill="#F4B183"/>
<polyline points="140.93,1183.71 176.89,1120.63 224.83,1081.62 284.76,1061.46 356.67,1057.23 464.54,1047.48" stroke="#C9C9C9" stroke-width="3.0" fill="none" stroke-linejoin="round" stroke-linecap="round"/>
<circle cx="140.93" cy="1183.71" r="5.4" fill="#C9C9C9"/>
<circle cx="176.89" cy="1120.63" r="5.4" fill="#C9C9C9"/>
<circle cx="224.83" cy="1081.62" r="5.4" fill="#C9C9C9"/>
<circle cx="284.76" cy="1061.46" r="5.4" fill="#C9C9C9"/>
<circle cx="356.67" cy="1057.23" r="5.4" fill="#C9C9C9"/>
<circle cx="464.54" cy="1047.48" r="5.4" fill="#C9C9C9"/>
<polyline points="140.93,1243.86 176.89,1120.63 224.83,1077.07 284.76,1075.12 356.67,1068.61 464.54,1065.04" stroke="#FFD966" stroke-width="3.0" fill="none" stroke-linejoin="round" stroke-linecap="round"/>
<circle cx="140.93" cy="1243.86" r="5.4" fill="#FFD966"/>
<circle cx="176.89" cy="1120.63" r="5.4" fill="#FFD966"/>
<circle cx="224.83" cy="1077.07" r="5.4" fill="#FFD966"/>
<circle cx="284.76" cy="1075.12" r="5.4" fill="#FFD966"/>
<circle cx="356.67" cy="1068.61" r="5.4" fill="#FFD966"/>
<circle cx="464.54" cy="1065.04" r="5.4" fill="#FFD966"/>
<polyline points="140.93,1227.93 176.89,1127.14 224.83,1094.62 284.76,1080.97 356.67,1068.61 464.54,1068.61" stroke="#9DC3E6" stroke-width="3.0" fill="none" stroke-linejoin="round" stroke-linecap="round"/>
<circle cx="140.93" cy="1227.93" r="5.4" fill="#9DC3E6"/>
<circle cx="176.89" cy="1127.14" r="5.4" fill="#9DC3E6"/>
<circle cx="224.83" cy="1094.62" r="5.4" fill="#9DC3E6"/>
<circle cx="284.76" cy="1080.97" r="5.4" fill="#9DC3E6"/>
<circle cx="356.67" cy="1068.61" r="5.4" fill="#9DC3E6"/>
<circle cx="464.54" cy="1068.61" r="5.4" fill="#9DC3E6"/>
<polyline points="140.93,1211.02 176.89,1119.01 224.83,1091.37 284.76,1078.04 356.67,1068.61 464.54,1053.33" stroke="#A9D18E" stroke-width="3.0" fill="none" stroke-linejoin="round" stroke-linecap="round"/>
<circle cx="140.93" cy="1211.02" r="5.4" fill="#A9D18E"/>
<circle cx="176.89" cy="1119.01" r="5.4" fill="#A9D18E"/>
<circle cx="224.83" cy="1091.37" r="5.4" fill="#A9D18E"/>
<circle cx="284.76" cy="1078.04" r="5.4" fill="#A9D18E"/>
<circle cx="356.67" cy="1068.61" r="5.4" fill="#A9D18E"/>
<circle cx="464.54" cy="1053.33" r="5.4" fill="#A9D18E"/>
<polyline points="140.93,1191.84 176.89,1127.46 224.83,1091.05 284.76,1074.47 356.67,1065.69 464.54,1059.18" stroke="#203864" stroke-width="3.0" fill="none" stroke-linejoin="round" stroke-linecap="round"/>
<circle cx="140.93" cy="1191.84" r="5.4" fill="#203864"/>
<circle cx="176.89" cy="1127.46" r="5.4" fill="#203864"/>
<circle cx="224.83" cy="1091.05" r="5.4" fill="#203864"/>
<circle cx="284.76" cy="1074.47" r="5.4" fill="#203864"/>
<circle cx="356.67" cy="1065.69" r="5.4" fill="#203864"/>
<circle cx="464.54" cy="1059.18" r="5.4" fill="#203864"/>
<polyline points="140.93,1210.04 176.89,1138.52 224.83,1096.57 284.76,1084.54 356.67,1074.14 464.54,1061.46" stroke="#843C0C" stroke-width="3.0" fill="none" stroke-linejoin="round" stroke-linecap="round"/>
<circle cx="140.93" cy="1210.04" r="5.4" fill="#843C0C"/>
<circle cx="176.89" cy="1138.52" r="5.4" fill="#843C0C"/>
<circle cx="224.83" cy="1096.57" r="5.4" fill="#843C0C"/>
<circle cx="284.76" cy="1084.54" r="5.4" fill="#843C0C"/>
<circle cx="356.67" cy="1074.14" r="5.4" fill="#843C0C"/>
<circle cx="464.54" cy="1061.46" r="5.4" fill="#843C0C"/>
<polyline points="140.93,1197.36 176.89,1116.41 224.83,1085.52 284.76,1067.64 356.67,1055.93 464.54,1040.65" stroke="#535353" stroke-width="3.0" fill="none" stroke-linejoin="round" stroke-linecap="round"/>
<circle cx="140.93" cy="1197.36" r="5.4" fill="#535353"/>
<circle cx="176.89" cy="1116.41" r="5.4" fill="#535353"/>
<circle cx="224.83" cy="1085.52" r="5.4" fill="#535353"/>
<circle cx="284.76" cy="1067.64" r="5.4" fill="#535353"/>
<circle cx="356.67" cy="1055.93" r="5.4" fill="#535353"/>
<circle cx="464.54" cy="1040.65" r="5.4" fill="#535353"/>
<polyline points="140.93,1205.17 176.89,1094.62 224.83,1042.60 284.76,1062.11 356.67,1081.62 464.54,1071.86" stroke="#FF0000" stroke-width="4.3" fill="none" stroke-linejoin="round" stroke-linecap="round" stroke-dasharray="12.8 16.7" stroke-dashoffset="-2.0"/>
<polyline points="140.93,1322.21 176.89,1214.92 224.83,1166.15 284.76,1162.90 356.67,1162.90 464.54,1149.90" stroke="#FF0000" stroke-width="4.3" fill="none" stroke-linejoin="round" stroke-linecap="round" stroke-dasharray="12.8 16.7" stroke-dashoffset="-2.0"/>
<text x="180.49" y="1005.70" font-size="22.5" textLength="17.84" lengthAdjust="spacingAndGlyphs" fill="#000">c)</text>
<text x="205.81" y="1005.70" font-size="22.5" textLength="28.03" lengthAdjust="spacingAndGlyphs" fill="#000">RC</text>
<text x="232.97" y="1011.30" font-size="12.8" textLength="29.30" lengthAdjust="spacingAndGlyphs" fill="#000">max</text>
<text x="261.48" y="1005.70" font-size="22.5">,</text>
<text x="275.43" y="1005.70" font-size="22.5" textLength="93.31" lengthAdjust="spacingAndGlyphs" fill="#000">standard</text>
<text x="374.73" y="1005.70" font-size="22.5" textLength="98.95" lengthAdjust="spacingAndGlyphs" fill="#000">protocols</text>
<text x="35.44" y="1414.60" font-size="15.4" textLength="30.72" lengthAdjust="spacingAndGlyphs" fill="#000">0.25</text>
<text x="35.40" y="1398.34" font-size="15.4" textLength="30.72" lengthAdjust="spacingAndGlyphs" fill="#000">0.30</text>
<text x="35.44" y="1382.09" font-size="15.4" textLength="30.72" lengthAdjust="spacingAndGlyphs" fill="#000">0.35</text>
<text x="35.40" y="1365.83" font-size="15.4" textLength="30.72" lengthAdjust="spacingAndGlyphs" fill="#000">0.40</text>
<text x="35.44" y="1349.57" font-size="15.4" textLength="30.72" lengthAdjust="spacingAndGlyphs" fill="#000">0.45</text>
<text x="35.40" y="1333.32" font-size="15.4" textLength="30.72" lengthAdjust="spacingAndGlyphs" fill="#000">0.50</text>
<text x="35.44" y="1317.06" font-size="15.4" textLength="30.72" lengthAdjust="spacingAndGlyphs" fill="#000">0.55</text>
<text x="35.40" y="1300.80" font-size="15.4" textLength="30.72" lengthAdjust="spacingAndGlyphs" fill="#000">0.60</text>
<text x="35.44" y="1284.55" font-size="15.4" textLength="30.72" lengthAdjust="spacingAndGlyphs" fill="#000">0.65</text>
<text x="35.40" y="1268.29" font-size="15.4" textLength="30.72" lengthAdjust="spacingAndGlyphs" fill="#000">0.70</text>
<text x="35.44" y="1252.03" font-size="15.4" textLength="30.72" lengthAdjust="spacingAndGlyphs" fill="#000">0.75</text>
<text x="35.40" y="1235.78" font-size="15.4" textLength="30.72" lengthAdjust="spacingAndGlyphs" fill="#000">0.80</text>
<text x="35.44" y="1219.52" font-size="15.4" textLength="30.72" lengthAdjust="spacingAndGlyphs" fill="#000">0.85</text>
<text x="35.40" y="1203.27" font-size="15.4" textLength="30.72" lengthAdjust="spacingAndGlyphs" fill="#000">0.90</text>
<text x="35.44" y="1187.01" font-size="15.4" textLength="30.72" lengthAdjust="spacingAndGlyphs" fill="#000">0.95</text>
<text x="35.40" y="1170.75" font-size="15.4" textLength="30.72" lengthAdjust="spacingAndGlyphs" fill="#000">1.00</text>
<text x="35.44" y="1154.50" font-size="15.4" textLength="30.72" lengthAdjust="spacingAndGlyphs" fill="#000">1.05</text>
<text x="35.40" y="1138.24" font-size="15.4" textLength="30.72" lengthAdjust="spacingAndGlyphs" fill="#000">1.10</text>
<text x="35.44" y="1121.98" font-size="15.4" textLength="30.72" lengthAdjust="spacingAndGlyphs" fill="#000">1.15</text>
<text x="35.40" y="1105.73" font-size="15.4" textLength="30.72" lengthAdjust="spacingAndGlyphs" fill="#000">1.20</text>
<text x="35.44" y="1089.47" font-size="15.4" textLength="30.72" lengthAdjust="spacingAndGlyphs" fill="#000">1.25</text>
<text x="35.40" y="1073.21" font-size="15.4" textLength="30.72" lengthAdjust="spacingAndGlyphs" fill="#000">1.30</text>
<text x="35.44" y="1056.96" font-size="15.4" textLength="30.72" lengthAdjust="spacingAndGlyphs" fill="#000">1.35</text>
<text x="35.40" y="1040.70" font-size="15.4" textLength="30.72" lengthAdjust="spacingAndGlyphs" fill="#000">1.40</text>
<text x="77.13" y="1435.80" font-size="15.4" textLength="8.78" lengthAdjust="spacingAndGlyphs" fill="#000">5</text>
<text x="132.36" y="1435.80" font-size="15.4" textLength="17.56" lengthAdjust="spacingAndGlyphs" fill="#000">10</text>
<text x="192.31" y="1435.80" font-size="15.4" textLength="17.56" lengthAdjust="spacingAndGlyphs" fill="#000">15</text>
<text x="252.42" y="1435.80" font-size="15.4" textLength="17.56" lengthAdjust="spacingAndGlyphs" fill="#000">20</text>
<text x="312.37" y="1435.80" font-size="15.4" textLength="17.56" lengthAdjust="spacingAndGlyphs" fill="#000">25</text>
<text x="372.37" y="1435.80" font-size="15.4" textLength="17.56" lengthAdjust="spacingAndGlyphs" fill="#000">30</text>
<text x="432.32" y="1435.80" font-size="15.4" textLength="17.56" lengthAdjust="spacingAndGlyphs" fill="#000">35</text>
<text x="492.35" y="1435.80" font-size="15.4" textLength="17.56" lengthAdjust="spacingAndGlyphs" fill="#000">40</text>
<text x="205.38" y="1464.90" font-size="16.5" textLength="51.19" lengthAdjust="spacingAndGlyphs" fill="#000">Sphere</text>
<text x="262.70" y="1464.90" font-size="16.5" textLength="67.10" lengthAdjust="spacingAndGlyphs" fill="#000">diameter</text>
<text x="335.19" y="1464.90" font-size="16.5" textLength="41.31" lengthAdjust="spacingAndGlyphs" fill="#000">(mm)</text>
<g transform="translate(25.00,0) rotate(-90)">
<text x="-1243.12" y="0.00" font-size="16.5" textLength="19.74" lengthAdjust="spacingAndGlyphs" fill="#000">RC</text>
<text x="-1223.95" y="4.90" font-size="11.2" textLength="21.27" lengthAdjust="spacingAndGlyphs" fill="#000">max</text>
</g>
<path d="M539.50 1081.70H586.50" stroke="#317CC2" stroke-width="3.0" stroke-linecap="round"/>
<circle cx="562.90" cy="1081.70" r="5.4" fill="#317CC2"/>
<text x="591.30" y="1086.60" font-size="15.4" textLength="16.67" lengthAdjust="spacingAndGlyphs" fill="#000">1s</text>
<path d="M539.50 1113.00H586.50" stroke="#5A8A3A" stroke-width="3.0" stroke-linecap="round"/>
<circle cx="562.90" cy="1113.00" r="5.4" fill="#5A8A3A"/>
<text x="591.71" y="1117.90" font-size="15.4" textLength="16.67" lengthAdjust="spacingAndGlyphs" fill="#000">2s</text>
<path d="M539.50 1144.30H586.50" stroke="#8FAADC" stroke-width="3.0" stroke-linecap="round"/>
<circle cx="562.90" cy="1144.30" r="5.4" fill="#8FAADC"/>
<text x="591.90" y="1149.20" font-size="15.4" textLength="16.67" lengthAdjust="spacingAndGlyphs" fill="#000">3s</text>
<path d="M539.50 1175.60H586.50" stroke="#F4B183" stroke-width="3.0" stroke-linecap="round"/>
<circle cx="562.90" cy="1175.60" r="5.4" fill="#F4B183"/>
<text x="592.14" y="1180.50" font-size="15.4" textLength="16.67" lengthAdjust="spacingAndGlyphs" fill="#000">4s</text>
<path d="M539.50 1206.90H586.50" stroke="#C9C9C9" stroke-width="3.0" stroke-linecap="round"/>
<circle cx="562.90" cy="1206.90" r="5.4" fill="#C9C9C9"/>
<text x="591.87" y="1211.80" font-size="15.4" textLength="16.67" lengthAdjust="spacingAndGlyphs" fill="#000">5s</text>
<path d="M539.50 1238.20H586.50" stroke="#FFD966" stroke-width="3.0" stroke-linecap="round"/>
<circle cx="562.90" cy="1238.20" r="5.4" fill="#FFD966"/>
<text x="591.81" y="1243.10" font-size="15.4" textLength="16.67" lengthAdjust="spacingAndGlyphs" fill="#000">8s</text>
<path d="M539.50 1269.50H586.50" stroke="#9DC3E6" stroke-width="3.0" stroke-linecap="round"/>
<circle cx="562.90" cy="1269.50" r="5.4" fill="#9DC3E6"/>
<text x="591.76" y="1274.40" font-size="15.4" textLength="16.67" lengthAdjust="spacingAndGlyphs" fill="#000">9s</text>
<path d="M539.50 1300.80H586.50" stroke="#A9D18E" stroke-width="3.0" stroke-linecap="round"/>
<circle cx="562.90" cy="1300.80" r="5.4" fill="#A9D18E"/>
<text x="591.30" y="1305.70" font-size="15.4" textLength="25.45" lengthAdjust="spacingAndGlyphs" fill="#000">10s</text>
<path d="M539.50 1332.10H586.50" stroke="#203864" stroke-width="3.0" stroke-linecap="round"/>
<circle cx="562.90" cy="1332.10" r="5.4" fill="#203864"/>
<text x="591.30" y="1337.00" font-size="15.4" textLength="25.45" lengthAdjust="spacingAndGlyphs" fill="#000">11s</text>
<path d="M539.50 1363.40H586.50" stroke="#843C0C" stroke-width="3.0" stroke-linecap="round"/>
<circle cx="562.90" cy="1363.40" r="5.4" fill="#843C0C"/>
<text x="591.30" y="1368.30" font-size="15.4" textLength="25.45" lengthAdjust="spacingAndGlyphs" fill="#000">12s</text>
<path d="M539.50 1394.70H586.50" stroke="#535353" stroke-width="3.0" stroke-linecap="round"/>
<circle cx="562.90" cy="1394.70" r="5.4" fill="#535353"/>
<text x="591.30" y="1399.60" font-size="15.4" textLength="25.45" lengthAdjust="spacingAndGlyphs" fill="#000">13s</text>
<path d="M539.55 1426.00H552.55" stroke="#FF0000" stroke-width="4.3" stroke-linecap="round"/>
<path d="M569.15 1426.00H582.25" stroke="#FF0000" stroke-width="4.3" stroke-linecap="round"/>
<text x="591.65" y="1430.50" font-size="15.4" textLength="46.85" lengthAdjust="spacingAndGlyphs" fill="#000">RCmax</text>
<text x="642.70" y="1430.50" font-size="15.4" textLength="41.76" lengthAdjust="spacingAndGlyphs" fill="#000">EARL2</text>
</svg>
</body></html>
